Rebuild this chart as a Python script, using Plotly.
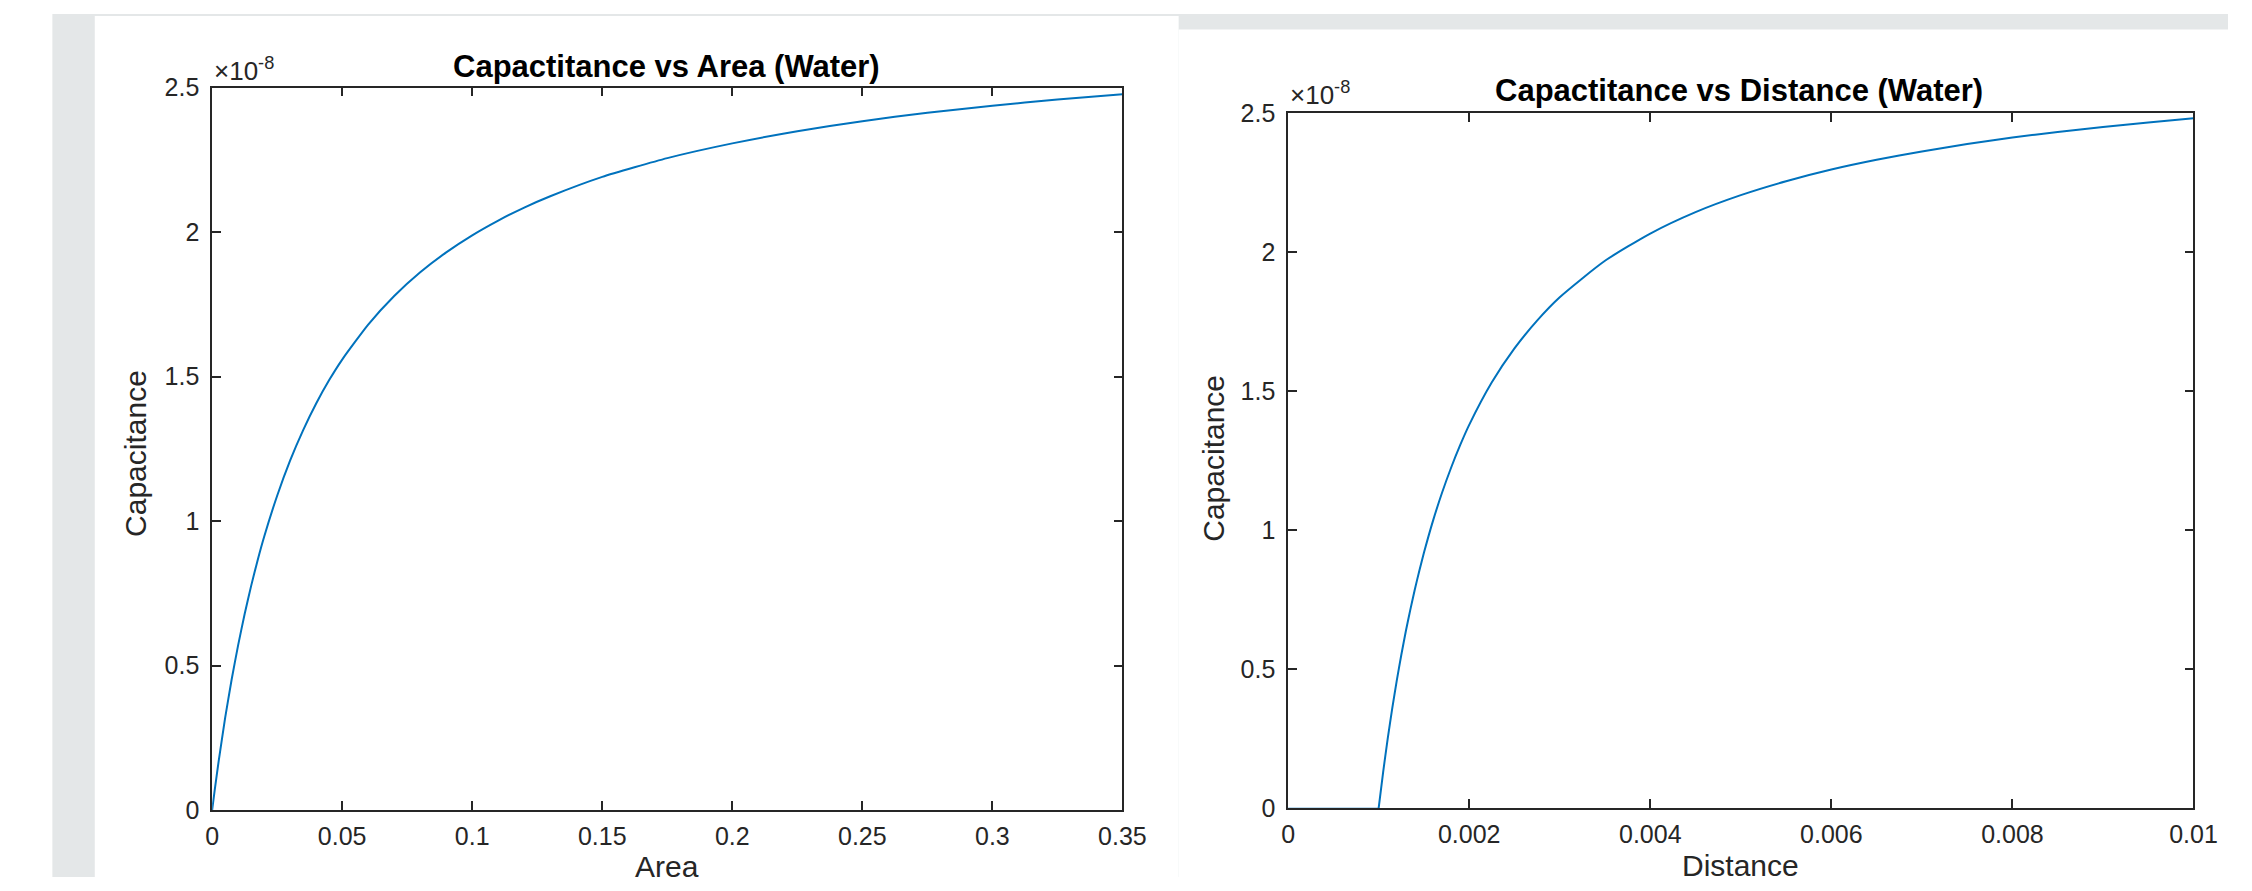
import plotly.graph_objects as go

W, H = 2252, 891

# ---- data (capacitance in units of 1e-8 F) ----
area = [0, 0.001, 0.0025, 0.005, 0.0075, 0.01, 0.0125, 0.015, 0.0175, 0.02, 0.025, 0.03, 0.035,
        0.04, 0.045, 0.05, 0.06, 0.07, 0.08, 0.09, 0.1, 0.11, 0.12, 0.13, 0.15, 0.175, 0.2,
        0.225, 0.25, 0.275, 0.3, 0.325, 0.35]
cap_area = [0, 0.070, 0.169, 0.319, 0.452, 0.571, 0.679, 0.776, 0.865, 0.946, 1.088, 1.210, 1.315,
            1.407, 1.488, 1.559, 1.680, 1.779, 1.861, 1.930, 1.989, 2.040, 2.085, 2.124, 2.191, 2.256, 2.307,
            2.349, 2.384, 2.413, 2.437, 2.459, 2.477]

distance = [0, 0.001, 0.00105, 0.0011, 0.00115, 0.0012, 0.00125, 0.0013, 0.00135, 0.0014, 0.00145,
            0.0015, 0.0016, 0.0017, 0.0018, 0.0019, 0.002, 0.00225, 0.0025, 0.00275, 0.003,
            0.0035, 0.004, 0.0045, 0.005, 0.0055, 0.006, 0.0065, 0.007, 0.0075, 0.008, 0.0085,
            0.009, 0.0095, 0.01]
cap_dist = [0, 0, 0.131, 0.250, 0.359, 0.459, 0.551, 0.636, 0.714, 0.787, 0.855,
            0.918, 1.033, 1.134, 1.224, 1.305, 1.378, 1.531, 1.653, 1.753, 1.837,
            1.968, 2.066, 2.143, 2.204, 2.254, 2.296, 2.331, 2.361, 2.388, 2.411, 2.431,
            2.449, 2.465, 2.480]

area_ticks = [0, 0.05, 0.1, 0.15, 0.2, 0.25, 0.3, 0.35]
area_ticktext = ["0", "0.05", "0.1", "0.15", "0.2", "0.25", "0.3", "0.35"]
dist_ticks = [0, 0.002, 0.004, 0.006, 0.008, 0.01]
dist_ticktext = ["0", "0.002", "0.004", "0.006", "0.008", "0.01"]
cap_ticks = [0, 0.5, 1, 1.5, 2, 2.5]
cap_ticktext = ["0", "0.5", "1", "1.5", "2", "2.5"]

titles = ["Capactitance vs Area (Water)", "Capactitance vs Distance (Water)"]
xlabels = ["Area", "Distance"]
ylabel = "Capacitance"

LINE = "#0072BD"
AX = "#262626"
FONT = "Liberation Sans, Arial, sans-serif"
GRAY = "#e4e7e8"

def px(x):
    return x / W

def py(y):
    return 1 - y / H

fig = go.Figure()
fig.add_trace(go.Scatter(x=area, y=cap_area, mode="lines",
                         line=dict(color=LINE, width=2, shape="spline", smoothing=0.5),
                         xaxis="x", yaxis="y", showlegend=False, hoverinfo="skip"))
# flat part (d <= 0.001, lies under the axis line) and rising part of the distance curve
fig.add_trace(go.Scatter(x=distance[:2], y=cap_dist[:2], mode="lines", line=dict(color=LINE, width=1),
                         xaxis="x2", yaxis="y2", showlegend=False, hoverinfo="skip"))
fig.add_trace(go.Scatter(x=distance[1:], y=cap_dist[1:], mode="lines",
                         line=dict(color=LINE, width=2, shape="spline", smoothing=0.6),
                         xaxis="x2", yaxis="y2", showlegend=False, hoverinfo="skip"))

# axes boxes (pixel geometry of the figure canvas)
L = dict(x0=208, x1=1131, y0=76, y1=822)
R = dict(x0=1299, x1=2217, y0=102, y1=820)

common = dict(showline=True, linecolor=AX, linewidth=1.5, mirror="allticks", ticks="inside",
              ticklen=9, tickwidth=1.5, tickcolor=AX, showgrid=False, zeroline=False,
              layer="above traces", tickfont=dict(family=FONT, size=25, color=AX))

fig.update_layout(
    width=W, height=H, autosize=False, margin=dict(l=0, r=0, t=0, b=0, pad=0),
    paper_bgcolor="white", plot_bgcolor="white", showlegend=False,
    xaxis=dict(domain=[px(L["x0"]), px(L["x1"])], range=[0, 0.35], anchor="y",
               tickvals=area_ticks, ticktext=area_ticktext, ticklabelstandoff=3, **common),
    yaxis=dict(domain=[py(L["y1"]), py(L["y0"])], range=[0, 2.5], anchor="x",
               tickvals=cap_ticks, ticktext=cap_ticktext, ticklabelstandoff=6, **common),
    xaxis2=dict(domain=[px(R["x0"]), px(R["x1"])], range=[0, 0.01], anchor="y2",
                tickvals=dist_ticks, ticktext=dist_ticktext, ticklabelstandoff=3, **common),
    yaxis2=dict(domain=[py(R["y1"]), py(R["y0"])], range=[0, 2.5], anchor="x2",
                tickvals=cap_ticks, ticktext=cap_ticktext, ticklabelstandoff=6, **common),
)

# background panels
shapes = [
    dict(type="rect", xref="paper", yref="paper", x0=px(46), x1=1, y0=0, y1=1,
         fillcolor=GRAY, line=dict(width=0), layer="below"),
    dict(type="rect", xref="paper", yref="paper", x0=px(89), x1=px(1188), y0=0, y1=py(2),
         fillcolor="white", line=dict(width=0), layer="below"),
    dict(type="rect", xref="paper", yref="paper", x0=px(1188), x1=1, y0=0, y1=py(16),
         fillcolor="white", line=dict(width=0), layer="below"),
]
fig.update_layout(shapes=shapes)

ann = []
def add(text, x, y, size, bold=False, angle=0, xanchor="center"):
    t = f"<b>{text}</b>" if bold else text
    ann.append(dict(text=t, x=px(x), y=py(y), xref="paper", yref="paper", showarrow=False,
                    xanchor=xanchor, yanchor="middle", textangle=angle,
                    font=dict(family=FONT, size=size, color="black" if bold else AX)))

add(titles[0], 669, 54, 31, bold=True)
add(titles[1], 1756, 79, 31, bold=True)
add(xlabels[0], (L["x0"] + L["x1"]) / 2, 880, 30)
add(xlabels[1], (R["x0"] + R["x1"]) / 2, 879, 30)
add(ylabel, 131, 454, 30, angle=-90)
add(ylabel, 1223, 459, 30, angle=-90)
add("×10<sup>-8</sup>", 208, 57, 26, xanchor="left")
add("×10<sup>-8</sup>", 1299, 82, 26, xanchor="left")
fig.update_layout(annotations=ann)

post = (
    "document.documentElement.style.margin='0';"
    "document.documentElement.style.overflow='hidden';"
    "document.body.style.margin='0';"
    "document.body.style.overflow='hidden';"
    "var gd=document.getElementById('{plot_id}');"
    "gd.style.position='fixed';gd.style.left='0px';gd.style.top='0px';"
)
fig.write_html("out.html", post_script=post, config={"displayModeBar": False, "responsive": False})
